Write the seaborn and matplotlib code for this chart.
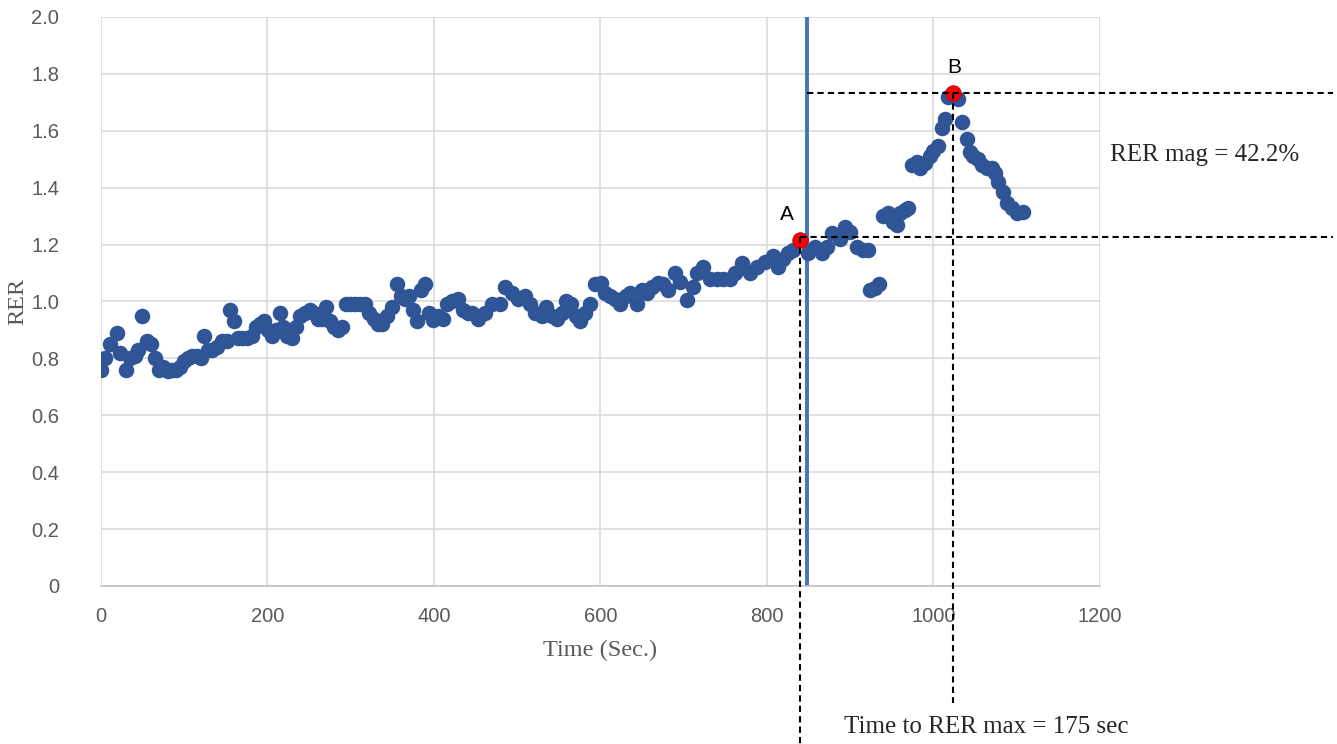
import matplotlib
matplotlib.use("Agg")
import matplotlib.pyplot as plt
import numpy as np
import pandas as pd
import seaborn as sns

# RER readings
TIME = [
    0, 5, 11, 19, 23, 30, 35, 41, 44, 49, 55, 60, 65, 70, 74, 80, 85, 90, 95, 100,
    105, 109, 115, 120, 124, 129, 134, 140, 145, 151, 155, 160, 165, 170, 176, 181,
    186, 191, 196, 201, 205, 210, 215, 219, 223, 229, 234, 239, 245, 251, 256, 261,
    265, 270, 275, 280, 285, 290, 294, 299, 305, 311, 317, 322, 328, 333, 338, 344,
    350, 356, 360, 365, 370, 375, 380, 384, 389, 394, 399, 405, 411, 416, 422, 429,
    435, 441, 446, 453, 461, 470, 479, 485, 494, 501, 509, 515, 521, 530, 535, 542,
    548, 554, 559, 565, 571, 575, 581, 587, 593, 601, 605, 611, 617, 623, 631, 635,
    644, 650, 656, 662, 669, 675, 681, 689, 695, 704, 711, 716, 723, 731, 740, 747,
    756, 762, 770, 780, 788, 798, 807, 813, 819, 825, 831, 849, 858, 866, 872, 878,
    888, 894, 900, 908, 915, 921, 924, 930, 934, 939, 946, 952, 956, 960, 966, 970,
    974, 980, 984, 990, 996, 1000, 1006, 1010, 1014, 1018, 1030, 1034, 1040, 1044,
    1048, 1054, 1058, 1064, 1070, 1074, 1077, 1084, 1088, 1094, 1100, 1108,
]
RER = [
    0.76, 0.80, 0.85, 0.89, 0.82, 0.76, 0.80, 0.81, 0.83, 0.95, 0.86, 0.85, 0.80, 0.76,
    0.77, 0.755, 0.76, 0.76, 0.77, 0.79, 0.80, 0.81, 0.81, 0.80, 0.88, 0.83, 0.83, 0.84,
    0.86, 0.86, 0.97, 0.93, 0.87, 0.87, 0.87, 0.88, 0.91, 0.92, 0.93, 0.90, 0.88, 0.90,
    0.96, 0.91, 0.88, 0.87, 0.91, 0.95, 0.96, 0.97, 0.96, 0.94, 0.94, 0.98, 0.93, 0.91,
    0.90, 0.91, 0.99, 0.99, 0.99, 0.99, 0.99, 0.96, 0.94, 0.92, 0.92, 0.95, 0.98, 1.06,
    1.02, 1.01, 1.02, 0.97, 0.93, 1.04, 1.06, 0.96, 0.935, 0.95, 0.94, 0.99, 1.00, 1.01,
    0.97, 0.96, 0.96, 0.94, 0.96, 0.99, 0.99, 1.05, 1.03, 1.01, 1.02, 0.99, 0.96, 0.95,
    0.98, 0.95, 0.94, 0.96, 1.00, 0.99, 0.95, 0.93, 0.96, 0.99, 1.06, 1.065, 1.03, 1.02,
    1.01, 0.99, 1.02, 1.03, 0.99, 1.04, 1.03, 1.05, 1.065, 1.06, 1.04, 1.10, 1.07, 1.005,
    1.05, 1.10, 1.12, 1.08, 1.08, 1.08, 1.08, 1.10, 1.135, 1.10, 1.12, 1.14, 1.16, 1.12,
    1.15, 1.17, 1.18, 1.17, 1.19, 1.17, 1.19, 1.24, 1.22, 1.26, 1.245, 1.19, 1.18, 1.18,
    1.04, 1.047, 1.06, 1.30, 1.31, 1.28, 1.27, 1.31, 1.32, 1.33, 1.48, 1.49, 1.47, 1.485,
    1.51, 1.53, 1.545, 1.61, 1.64, 1.72, 1.71, 1.63, 1.57, 1.525, 1.51, 1.50, 1.48, 1.47,
    1.47, 1.45, 1.42, 1.385, 1.345, 1.33, 1.31, 1.315,
]

# marked points A (start) and B (RER max)
KEY_LABELS = ["A", "B"]
KEY_TIME = [840, 1024]
KEY_RER = [1.216, 1.733]

MARKER_TIME = 848  # vertical marker line
MAG_TEXT = "RER mag = 42.2%"
TTM_TEXT = "Time to RER max = 175 sec"

X_TICKS = [0, 200, 400, 600, 800, 1000, 1200]
Y_TICKS = [0, 0.2, 0.4, 0.6, 0.8, 1.0, 1.2, 1.4, 1.6, 1.8, 2.0]
Y_TICK_LABELS = ["0", "0.2", "0.4", "0.6", "0.8", "1.0", "1.2", "1.4", "1.6", "1.8", "2.0"]

sns.set_style("whitegrid", {"grid.color": "#D9D9D9"})
plt.rcParams["font.family"] = ["Liberation Sans", "DejaVu Sans"]

df = pd.DataFrame({"Time": TIME, "RER": RER})
keys = pd.DataFrame({"Time": KEY_TIME, "RER": KEY_RER, "label": KEY_LABELS})

fig = plt.figure(figsize=(13.37, 7.44), dpi=100)
ax = fig.add_axes([0.0755, 0.2124, 0.7472, 0.7648])

sns.scatterplot(data=df, x="Time", y="RER", ax=ax, color="#2F5597",
                s=125, linewidth=0, zorder=3)
sns.scatterplot(data=keys, x="Time", y="RER", ax=ax, color="#FF0000",
                s=125, linewidth=0.6, edgecolor="#C00000", zorder=4)

ax.axvline(MARKER_TIME, color="#4472C4", linewidth=2.8, zorder=2)

ax.set_xlim(0, 1200)
ax.set_ylim(0, 2.0)
ax.set_xticks(X_TICKS)
ax.set_yticks(Y_TICKS)
ax.set_yticklabels(Y_TICK_LABELS)
ax.tick_params(axis="both", length=0, labelsize=14.5, labelcolor="#595959")
ax.tick_params(axis="x", pad=15)
ax.tick_params(axis="y", pad=30)
ax.grid(True, color="#D9D9D9", linewidth=1.1)
for side in ["top", "right", "left"]:
    ax.spines[side].set_visible(False)
ax.spines["bottom"].set_color("#BFBFBF")
ax.spines["bottom"].set_linewidth(1.1)

ax.set_xlabel("Time (Sec.)", family="Liberation Serif", fontsize=17.5,
              color="#595959", labelpad=10)
ax.set_ylabel("RER", family="Liberation Serif", fontsize=17.5, color="#595959")
ax.yaxis.set_label_coords(-0.073, 0.5)

# dashed guide lines, extending beyond the axes
dash = dict(color="black", linestyle=(0, (3, 2)), linewidth=1.5, clip_on=False, zorder=5)
ax.plot([MARKER_TIME, 1480], [KEY_RER[1], KEY_RER[1]], **dash)
ax.plot([KEY_TIME[0], 1480], [1.227, 1.227], **dash)
ax.plot([KEY_TIME[0], KEY_TIME[0]], [1.227, -0.56], **dash)
ax.plot([KEY_TIME[1], KEY_TIME[1]], [KEY_RER[1], -0.41], **dash)

for lab, t, r in zip(KEY_LABELS, KEY_TIME, KEY_RER):
    ax.text(t - 16 if lab == "A" else t + 1, r + 0.055, lab, fontsize=15,
            ha="center", va="bottom", color="black")

ax.text(1212, 1.515, MAG_TEXT, family="Liberation Serif",
        fontsize=18, ha="left", va="center", clip_on=False)
ax.text(893, -0.497, TTM_TEXT, family="Liberation Serif",
        fontsize=18, ha="left", va="center", clip_on=False)

fig.savefig("out.png", dpi=100)
